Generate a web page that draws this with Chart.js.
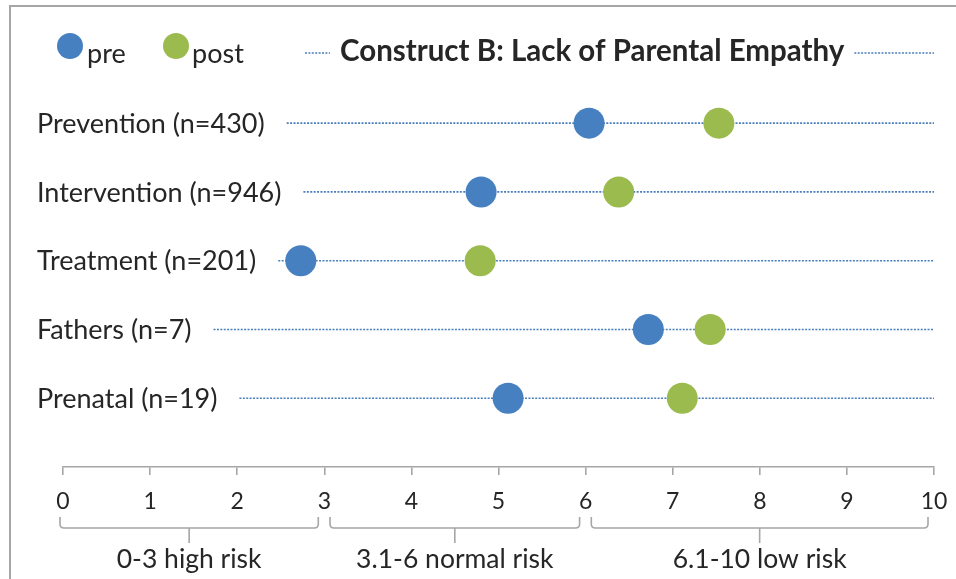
<!DOCTYPE html>
<html>
<head>
<meta charset="utf-8">
<script src="https://cdn.jsdelivr.net/npm/chart.js@4"></script>
<style>
  html, body { margin: 0; padding: 0; background: #fff; }
  #wrap { width: 956px; height: 579px; }
</style>
</head>
<body>
<div id="wrap"><canvas id="chart" width="956" height="579"></canvas></div>
<script>
const groups = ['Prevention (n=430)', 'Intervention (n=946)', 'Treatment (n=201)', 'Fathers (n=7)', 'Prenatal (n=19)'];
const rowPos = [5, 4, 3, 2, 1];
const preScores = [6.04, 4.80, 2.73, 6.72, 5.11];
const postScores = [7.53, 6.38, 4.79, 7.43, 7.11];
const riskFrom = [0, 3.1, 6.1];
const riskTo = [3, 6, 10];
const riskLabels = ['0-3 high risk', '3.1-6 normal risk', '6.1-10 low risk'];
const chartTitle = 'Construct B: Lack of Parental Empathy';

const BLUE = '#4680c1';
const GREEN = '#9bbb4f';
const DOT = '#4a7ebb';
const GRAY = '#a6a6a6';
const TEXT = '#262626';
const FONT = 'Lato, "Open Sans", sans-serif';

function dotted(ctx, x1, x2, y) {
    ctx.save();
    ctx.strokeStyle = DOT;
    ctx.lineWidth = 1.6;
    ctx.setLineDash([2, 1.4]);
    ctx.beginPath();
    ctx.moveTo(x1, y);
    ctx.lineTo(x2, y);
    ctx.stroke();
    ctx.restore();
}

// rows, legend, title, braces
const decor = {
    id: 'decor',
    beforeDatasetsDraw(chart) {
        const ctx = chart.ctx;
        const x = chart.scales.x, y = chart.scales.y;
        ctx.save();
        ctx.font = '27px ' + FONT;
        ctx.fillStyle = TEXT;
        ctx.textBaseline = 'middle';
        groups.forEach((g, i) => {
            const py = y.getPixelForValue(rowPos[i]);
            ctx.fillText(g, 37, py + 1);
            const w = ctx.measureText(g).width;
            dotted(ctx, 37 + w + 22, x.getPixelForValue(10), py);
        });
        ctx.restore();
    },
    afterDraw(chart) {
        const ctx = chart.ctx;
        const x = chart.scales.x;
        ctx.save();
        // frame
        ctx.strokeStyle = GRAY;
        ctx.lineWidth = 2;
        ctx.strokeRect(10, 6, 980, 620);

        // legend
        ctx.textBaseline = 'alphabetic';
        ctx.font = '27px ' + FONT;
        ctx.fillStyle = BLUE;
        ctx.beginPath(); ctx.arc(70, 46, 13, 0, Math.PI * 2); ctx.fill();
        ctx.fillStyle = TEXT;
        ctx.fillText('pre', 87, 63);
        ctx.fillStyle = GREEN;
        ctx.beginPath(); ctx.arc(176, 46, 13, 0, Math.PI * 2); ctx.fill();
        ctx.fillStyle = TEXT;
        ctx.fillText('post', 192, 63);

        // title with dotted leaders
        ctx.font = 'bold 29.5px ' + FONT;
        ctx.textBaseline = 'middle';
        ctx.textAlign = 'left';
        const tw = ctx.measureText(chartTitle).width;
        const tx = 340;
        ctx.fillText(chartTitle, tx, 51);
        dotted(ctx, 305, tx - 10, 53);
        dotted(ctx, tx + tw + 10, x.getPixelForValue(10), 53);

        // braces
        ctx.strokeStyle = GRAY;
        ctx.lineWidth = 1.6;
        ctx.font = '26.5px ' + FONT;
        ctx.textAlign = 'center';
        ctx.textBaseline = 'middle';
        riskLabels.forEach((lab, i) => {
            const x1 = x.getPixelForValue(riskFrom[i]) - 3;
            const x2 = x.getPixelForValue(riskTo[i]) - 6;
            const mid = (x1 + x2) / 2;
            const top = 517, hy = 528, r = 4;
            ctx.beginPath();
            ctx.moveTo(x1, top);
            ctx.lineTo(x1, hy - r);
            ctx.quadraticCurveTo(x1, hy, x1 + r, hy);
            ctx.lineTo(x2 - r, hy);
            ctx.quadraticCurveTo(x2, hy, x2, hy - r);
            ctx.lineTo(x2, top);
            ctx.moveTo(mid, hy);
            ctx.lineTo(mid, 543);
            ctx.stroke();
            ctx.fillStyle = TEXT;
            ctx.fillText(lab, mid, 559);
        });
        ctx.restore();
    }
};

new Chart(document.getElementById('chart'), {
    type: 'scatter',
    data: {
        datasets: [
            {
                label: 'pre',
                data: preScores.map((v, i) => ({ x: v, y: rowPos[i] })),
                backgroundColor: BLUE,
                borderColor: BLUE,
                pointRadius: 15.5,
                pointHoverRadius: 15.5,
                borderWidth: 0
            },
            {
                label: 'post',
                data: postScores.map((v, i) => ({ x: v, y: rowPos[i] })),
                backgroundColor: GREEN,
                borderColor: GREEN,
                pointRadius: 15.5,
                pointHoverRadius: 15.5,
                borderWidth: 0
            }
        ]
    },
    options: {
        responsive: false,
        animation: false,
        layout: { padding: { left: 63, right: 22, top: 20, bottom: 0 } },
        plugins: {
            legend: { display: false },
            tooltip: { enabled: false },
            title: { display: false }
        },
        scales: {
            x: {
                type: 'linear',
                min: 0,
                max: 10,
                afterFit(scale) {
                    scale.height = 112;
                    scale.paddingLeft = 0;
                    scale.paddingRight = 0;
                },
                ticks: {
                    stepSize: 1,
                    color: TEXT,
                    padding: 13,
                    font: { family: FONT, size: 23 }
                },
                grid: {
                    drawOnChartArea: false,
                    drawTicks: true,
                    tickLength: 8,
                    color: GRAY,
                    lineWidth: 1.6
                },
                border: { display: true, color: GRAY, width: 1.6 }
            },
            y: {
                type: 'linear',
                display: false,
                min: 0,
                max: 6.5
            }
        }
    },
    plugins: [decor]
});
</script>
</body>
</html>
